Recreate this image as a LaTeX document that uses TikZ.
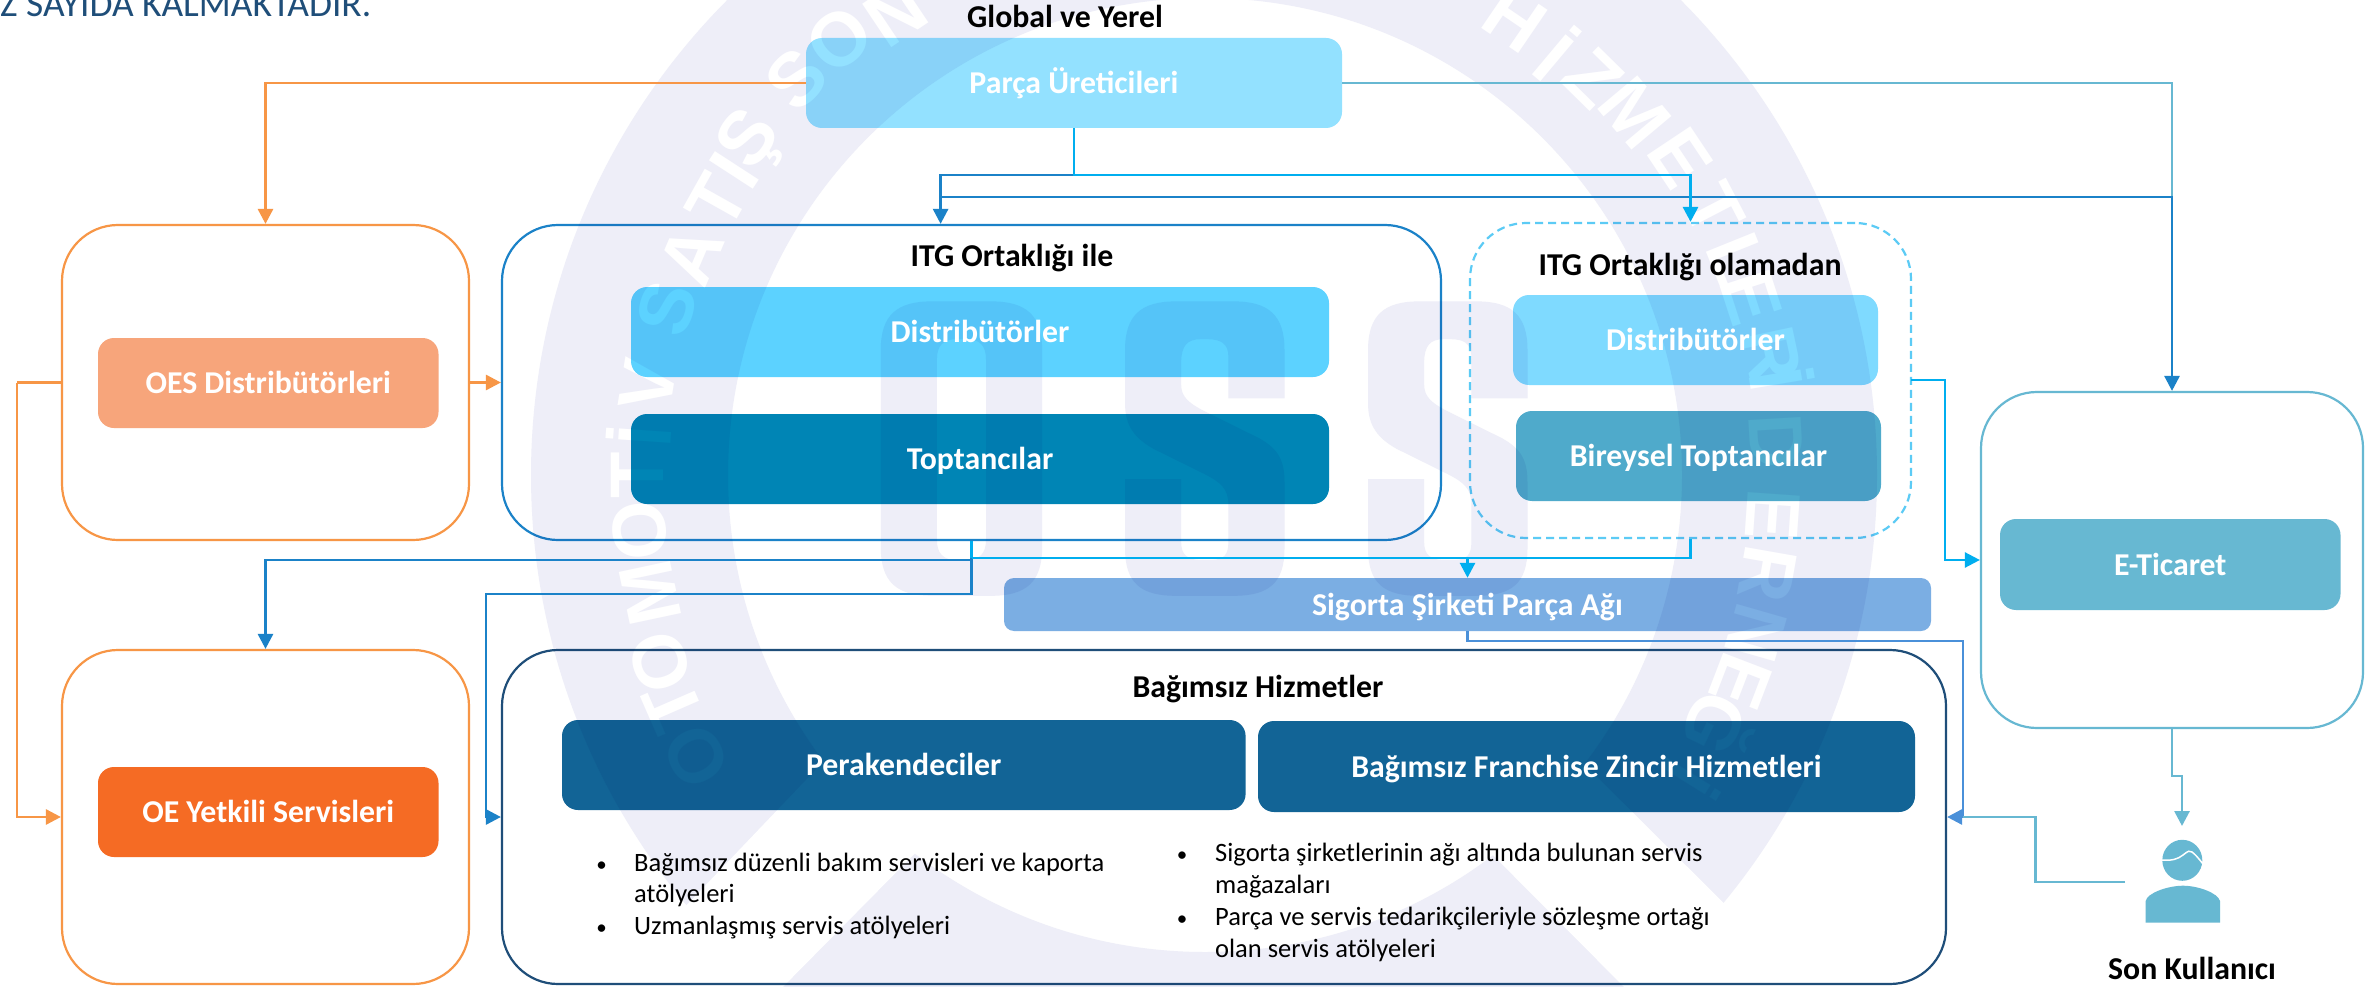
\documentclass[tikz,border=0pt]{standalone}
\usepackage{fontspec}
\setmainfont{Carlito}
\newfontfamily\ringfont{Liberation Sans}
\usetikzlibrary{arrows.meta,calc}
\definecolor{wm}{HTML}{EEEEF8}
\definecolor{corange}{HTML}{F79646}
\definecolor{cblue}{HTML}{1B82C8}
\definecolor{ccyan}{HTML}{00AEEF}
\definecolor{cteal}{HTML}{67B8D2}
\definecolor{csig}{HTML}{4A90D9}
\definecolor{cnavy}{HTML}{1F4E79}
\definecolor{cdash}{HTML}{5CCBF5}
\definecolor{fparca}{HTML}{93E1FF}
\definecolor{fdist}{HTML}{5CD2FF}
\definecolor{ftop}{HTML}{0085B5}
\definecolor{fdistb}{HTML}{7FDAFF}
\definecolor{fbir}{HTML}{4FAACB}
\definecolor{fsig}{HTML}{7BAEE3}
\definecolor{fper}{HTML}{126496}
\definecolor{foes}{HTML}{F7A57B}
\definecolor{foe}{HTML}{F56B24}
\tikzset{
  frame/.style={draw=#1,line width=2.2pt,rounded corners=56pt,inner sep=0pt,fill=none},
  solidbox/.style={fill=#1,draw=none,rounded corners=16pt,inner sep=0pt},
  boxtext/.style={text=white,font=\fontsize{31.8}{34}\selectfont\bfseries,inner sep=0pt,text height=21.5pt,text depth=0pt},
  headtext/.style={text=black,font=\fontsize{31.8}{34}\selectfont\bfseries,inner sep=0pt,anchor=base},
  bodytext/.style={text=black,font=\fontsize{26.5}{30}\selectfont,inner sep=0pt,anchor=base west},
  bullettext/.style={text=black,font=\fontsize{21}{24}\selectfont,inner sep=0pt,anchor=base},
  ringl/.style={text=white,font=\ringfont\fontsize{76}{78}\selectfont\bfseries,inner sep=0pt},
  conn/.style={draw=#1,line width=2.8pt,line join=miter},
  tip/.style={-{Triangle[length=15pt,width=15pt]}}
}
\newcommand{\Sshape}{(1230,632) -- (1142,632) -- (1142,565) .. controls (1142,545) and (1130,538) .. (1110,538) -- (1098,538) .. controls (1078,538) and (1068,548) .. (1068,575) -- (1068,610) .. controls (1068,630) and (1080,640) .. (1110,655) -- (1190,695) .. controls (1220,712) and (1230,730) .. (1230,765) -- (1230,870) .. controls (1230,925) and (1205,945) .. (1150,945) -- (1060,945) .. controls (1005,945) and (980,925) .. (980,870) -- (980,760) -- (1068,760) -- (1068,860) .. controls (1068,880) and (1078,888) .. (1098,888) -- (1115,888) .. controls (1135,888) and (1142,880) .. (1142,860) -- (1142,800) .. controls (1142,775) and (1130,765) .. (1105,752) -- (1025,712) .. controls (995,695) and (980,675) .. (980,640) -- (980,555) .. controls (980,500) and (1005,478) .. (1060,478) -- (1150,478) .. controls (1205,478) and (1230,500) .. (1230,555) -- cycle}
\begin{document}
\begin{tikzpicture}[x=1pt,y=-1pt]
\useasboundingbox (0,0) rectangle (2372,987);
\clip (0,0) rectangle (2372,987);
\fill[white] (0,0) rectangle (2372,987);
% watermark
\fill[wm,even odd rule] (1204,475) circle [radius=673pt] (1205,475) circle [radius=477pt];
\fill[white] (847,737) -- (596,1000) -- (770,1000) -- (940,828) -- cycle;
\fill[white] (1560,740) -- (1821,1000) -- (1637,1000) -- (1470,832) -- cycle;
\foreach \a/\l/\r [count=\i] in {209/O/580,203.6/T/579,199/O/575,192/M/566,185.6/O/567,180/T/567,176/İ/567,170.8/V/564,162.8/S/562,156.8/A/558,150.7/T/558,147/I/560,143.6/Ş/561,135.8/S/568,130/O/568,123.8/N/555,55.7/H/552,50/İ/550,45.5/Z/556,40/M/563,33.7/E/572,27.5/T/574,22/L/575,18/E/575,12/R/580,9.5/İ/586,3.4/D/573,-4/E/570,-10/R/572,-16/N/574,-21/E/575,-26/Ğ/575,-32/İ/575}
  \node[ringl,rotate=\a-90] (ring\i) at ({1204+\r*cos(\a)},{475-\r*sin(\a)}) {\l};
\begin{scope}[x=.6378pt,y=.6305pt,shift={(500pt,0pt)}]
\begin{scope}[y=-.6305pt]
  \fill[wm,even odd rule] (597,555) .. controls (597,500) and (622,478) .. (677,478) -- (770,478) .. controls (825,478) and (850,500) .. (850,555) -- (850,868) .. controls (850,923) and (825,945) .. (770,945) -- (677,945) .. controls (622,945) and (597,923) .. (597,868) -- cycle
    (685,570) .. controls (685,548) and (695,538) .. (715,538) -- (732,538) .. controls (752,538) and (762,548) .. (762,570) -- (762,856) .. controls (762,878) and (752,888) .. (732,888) -- (715,888) .. controls (695,888) and (685,878) .. (685,856) -- cycle;
  \fill[wm] \Sshape;
  \begin{scope}[xshift=243pt]
  \fill[wm] \Sshape;
  \end{scope}
\end{scope}
\end{scope}
% boxes
\begin{scope}[blend mode=multiply]
\node[solidbox=fparca,minimum width=536pt,minimum height=90pt] (parca) at (1074,83) {};
\node[solidbox=foes,minimum width=340.5pt,minimum height=90pt] (oesI) at (268.25,383) {};
\node[solidbox=fdist,minimum width=698pt,minimum height=90pt] (dista) at (980,332) {};
\node[solidbox=ftop,minimum width=698pt,minimum height=90pt] (topt) at (980,459) {};
\node[solidbox=fdistb,minimum width=365pt,minimum height=90pt] (distb) at (1695.5,340) {};
\node[solidbox=fbir,minimum width=365pt,minimum height=90pt] (bir) at (1698.5,456) {};
\node[solidbox=cteal,minimum width=340.5pt,minimum height=91pt] (etiI) at (2170.25,564.5) {};
\node[solidbox=fsig,minimum width=927pt,minimum height=53pt,rounded corners=10pt] (sig) at (1467.5,604.5) {};
\node[solidbox=foe,minimum width=340.5pt,minimum height=90pt] (oeI) at (268.25,812) {};
\node[solidbox=fper,minimum width=683.6pt,minimum height=90pt] (per) at (903.8,765) {};
\node[solidbox=fper,minimum width=657pt,minimum height=91pt] (fra) at (1586.5,766.5) {};
\node[frame=corange,minimum width=407pt,minimum height=315pt] (oes) at (265.5,382.5) {};
\node[frame=cblue,minimum width=939pt,minimum height=315pt] (itg) at (971.5,382.5) {};
\node[frame=cdash,dash pattern=on 8pt off 5pt,minimum width=441pt,minimum height=315pt] (itgn) at (1690.5,380.5) {};
\node[frame=cteal,minimum width=382pt,minimum height=336pt] (eti) at (2172,560) {};
\node[frame=corange,minimum width=407pt,minimum height=334pt] (oe) at (265.5,817) {};
\node[frame=cnavy,minimum width=1444pt,minimum height=334pt] (bag) at (1224,817) {};
\end{scope}
% person icon
\fill[cteal] (2182.3,860.3) ellipse [x radius=20pt,y radius=20.5pt];
\draw[white,line width=1.5pt] (2161,860) .. controls (2172,861) and (2178,859) .. (2183,855) .. controls (2188,851) and (2190,850) .. (2192,852) .. controls (2196,855) and (2199,859) .. (2203,864);
\fill[cteal] (2145.7,922.7) -- (2145.7,901) .. controls (2147,893) and (2168,885.7) .. (2183,885.7) .. controls (2198,885.7) and (2218,893) .. (2220,901) -- (2220,922.7) -- cycle;
% named bends
\coordinate (jR) at (2172,197);
\coordinate (pT) at (1074,175);
\coordinate (itgIn) at (940.6,175);
\coordinate (itgLow) at (940.6,197);
\coordinate (cyTop) at (1690.5,175);
\coordinate (ia) at (971.5,594);
\coordinate (ib) at (486,594);
\coordinate (ic) at (971.5,560);
\coordinate (jC) at (971.5,558);
\coordinate (sc) at (1467.5,558);
\coordinate (sr) at (1963,641);
\coordinate (srb) at (1963,817);
\coordinate (pf) at (2125,882);
\coordinate (pm) at (2035.6,817);
\coordinate (ea) at (1911,380);
\coordinate (eb) at (1945,380);
\coordinate (ol) at (17,382.5);
\coordinate (ds) at (2172,776);
\coordinate (dt) at (2182,776);
\coordinate (de) at (2182,826);
% connectors
\draw[conn=corange,tip] (parca.west) -| (oes.north);
\draw[conn=cteal,line width=2.4pt] (parca.east) -| (jR);
\draw[conn=cblue,tip] (pT) -- (itgIn) -- (itgIn |- itg.north);
\draw[conn=cblue,tip] (itgLow) -- (jR) -- (eti.north);
\draw[conn=ccyan,tip] (parca.south) |- (cyTop) -- (itgn.north);
\draw[conn=cblue,tip] (itg.south) -- (ia) -- (ib) |- (bag.west);
\draw[conn=cblue,tip] (ic) -| (oe.north);
\draw[conn=ccyan] (itg.south) -- (jC);
\draw[conn=ccyan] (itgn.south) |- (jC);
\draw[conn=ccyan,tip] (sc) -- (sig.north);
\draw[conn=csig,line width=2.4pt] (sig.south) |- (sr) -- (srb);
\draw[conn=cteal] (pf) -| (pm) -- (srb);
\draw[conn=csig,tip] (srb) -- (bag.east);
\draw[conn=ccyan,line width=2.4pt,tip] (ea) -- (eb) |- (eti.west);
\draw[conn=corange] (oes.west) -- (ol);
\draw[conn=corange,tip] (ol) |- (oe.west);
\draw[conn=corange,tip] (oes.east) -- (itg.west);
\draw[conn=cteal,tip] (eti.south) -- (ds) -- (dt) -- (de);
% texts
\node[text=cnavy,font=\fontsize{37.4}{40}\selectfont,inner sep=0pt,anchor=base west] (ttl) at (0,17) {Z SAYIDA KALMAKTADIR.};
\node[headtext] (hglobal) at (1065,28) {Global ve Yerel};
\node[headtext] (hitg) at (1012,266) {ITG Ortaklığı ile};
\node[headtext] (hitgn) at (1690,275) {ITG Ortaklığı olamadan};
\node[headtext] (hbag) at (1258,697) {Bağımsız Hizmetler};
\node[headtext] (hson) at (2192,979) {Son Kullanıcı};
\node[boxtext] (tparca) at (parca) {Parça Üreticileri};
\node[boxtext] (toes) at (oesI) {OES Distribütörleri};
\node[boxtext] (tdista) at (dista) {Distribütörler};
\node[boxtext] (ttopt) at (topt) {Toptancılar};
\node[boxtext] (tdistb) at (distb) {Distribütörler};
\node[boxtext] (tbir) at (bir) {Bireysel Toptancılar};
\node[boxtext] (teti) at (etiI) {E-Ticaret};
\node[boxtext] (tsig) at (sig) {Sigorta Şirketi Parça Ağı};
\node[boxtext] (toe) at (oeI) {OE Yetkili Servisleri};
\node[boxtext] (tper) at (per) {Perakendeciler};
\node[boxtext] (tfra) at (fra) {Bağımsız Franchise Zincir Hizmetleri};
\node[bullettext] (ba) at (601.7,871) {•};
\node[bodytext] (la) at (634,871) {Bağımsız düzenli bakım servisleri ve kaporta};
\node[bodytext] (lb) at (634,902.5) {atölyeleri};
\node[bullettext] (bb) at (601.7,934) {•};
\node[bodytext] (lc) at (634,934) {Uzmanlaşmış servis atölyeleri};
\node[bullettext] (bc) at (1182,861) {•};
\node[bodytext] (ld) at (1215,861) {Sigorta şirketlerinin ağı altında bulunan servis};
\node[bodytext] (le) at (1215,893) {mağazaları};
\node[bullettext] (bd) at (1182,925) {•};
\node[bodytext] (lf) at (1215,925) {Parça ve servis tedarikçileriyle sözleşme ortağı};
\node[bodytext] (lg) at (1215,957) {olan servis atölyeleri};
\end{tikzpicture}
\end{document}
